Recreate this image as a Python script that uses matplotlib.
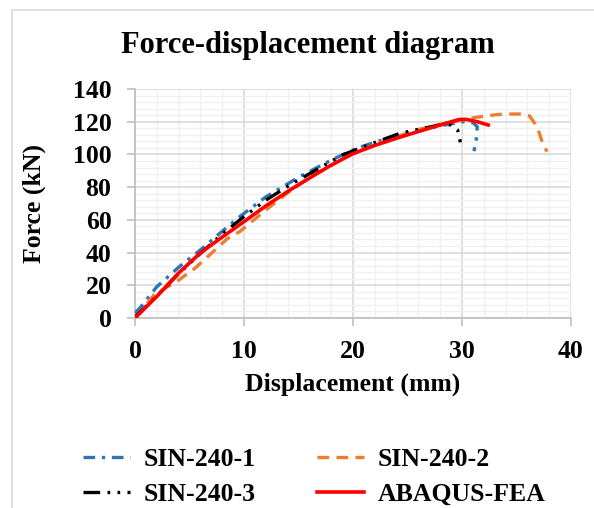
import matplotlib
matplotlib.use("Agg")
import matplotlib.pyplot as plt
from matplotlib.patches import Rectangle
from matplotlib.ticker import MultipleLocator

# ---- data ----
x_sin1 = [0.0, 0.5, 2.0, 4.0, 6.0, 8.0, 9.6, 12.0, 15.1, 18.0, 20.3, 23.0, 25.5, 28.0, 30.1, 31.0, 31.4, 31.3, 31.1]
y_sin1 = [3.0, 6.5, 19.1, 31.0, 41.6, 53.0, 61.9, 74.0, 86.4, 96.5, 103.7, 109.5, 113.9, 117.5, 120.0, 119.5, 117.0, 108.8, 102.0]

x_sin2 = [0.0, 1.8, 3.8, 5.5, 7.0, 8.5, 9.6, 12.0, 14.0, 16.0, 18.0, 20.0, 23.0, 26.0, 28.5, 31.3, 33.0, 34.0, 35.6, 36.2, 36.9, 37.4, 37.8]
y_sin2 = [0.0, 14.5, 22.2, 30.4, 39.5, 48.7, 52.8, 66.0, 76.5, 86.0, 93.5, 100.5, 108.5, 115.3, 119.0, 122.7, 124.2, 124.7, 124.7, 123.5, 116.9, 106.8, 101.7]

x_sin3 = [0.0, 2.0, 4.0, 6.0, 8.1, 10.0, 12.0, 14.2, 17.0, 19.0, 21.5, 24.3, 26.5, 28.2, 29.0, 29.6, 29.85]
y_sin3 = [0.5, 13.5, 27.0, 39.5, 51.8, 62.0, 72.0, 81.3, 92.0, 99.6, 106.0, 112.9, 116.0, 118.4, 118.0, 114.9, 107.4]

x_fea = [0.0, 1.98, 3.97, 5.95, 8.0, 10.0, 12.0, 14.2, 16.0, 17.86, 19.9, 22.0, 23.96, 25.5, 27.0, 28.5, 29.76, 30.4, 31.4, 32.4]
y_fea = [0.0, 13.0, 27.3, 39.5, 49.5, 58.9, 68.5, 78.2, 85.5, 92.9, 100.2, 105.5, 109.8, 113.0, 116.0, 119.0, 121.4, 121.4, 120.0, 118.0]

labels = ["SIN-240-1", "SIN-240-2", "SIN-240-3", "ABAQUS-FEA"]
title = "Force-displacement diagram"
xlabel = "Displacement (mm)"
ylabel = "Force (kN)"

plt.rcParams['font.family'] = ['Liberation Serif', 'DejaVu Serif']
plt.rcParams['font.weight'] = 'bold'

FS = 18.5

fig = plt.figure(figsize=(5.94, 5.08), dpi=100)
fig.patches.append(Rectangle((12/594, -0.1), 1.2, 0.1 + (1 - 10/508), transform=fig.transFigure,
                             fill=False, edgecolor='#d9d9d9', linewidth=1.2, zorder=0))

ax = fig.add_axes([135/594, 1 - 318/508, (571 - 135)/594, (318 - 89)/508])

lw = 2.4
h1, = ax.plot(x_sin1, y_sin1, color='#2e75b6', lw=lw, linestyle=(0, (3.5, 2, 1, 2)), label=labels[0], zorder=3)
h2, = ax.plot(x_sin2, y_sin2, color='#ed7d31', lw=lw, linestyle=(0, (3.5, 2.2)), label=labels[1], zorder=3)
h3, = ax.plot(x_sin3, y_sin3, color='black', lw=lw, linestyle=(0, (5, 2.2, 0.8, 2.2, 0.8, 2.2)), label=labels[2], zorder=4)
h4, = ax.plot(x_fea, y_fea, color='#ff0000', lw=2.6, linestyle='-', label=labels[3], zorder=5)

ax.set_xlim(0, 40)
ax.set_ylim(0, 140)
ax.xaxis.set_major_locator(MultipleLocator(10))
ax.yaxis.set_major_locator(MultipleLocator(20))
ax.xaxis.set_minor_locator(MultipleLocator(2))
ax.yaxis.set_minor_locator(MultipleLocator(4))
ax.grid(which='major', color='#d9d9d9', linewidth=1.2)
ax.grid(which='minor', color='#f0f0f0', linewidth=1.0)
ax.set_axisbelow(True)
for s in ['top', 'right']:
    ax.spines[s].set_visible(False)
for s in ['left', 'bottom']:
    ax.spines[s].set_color('#bfbfbf')
    ax.spines[s].set_linewidth(1.2)
ax.tick_params(which='major', direction='out', length=6, color='#bfbfbf', width=1.2,
               labelsize=FS)
ax.tick_params(axis='x', pad=10)
ax.tick_params(axis='y', pad=11)
ax.tick_params(which='minor', length=0)
for t in ax.get_xticklabels() + ax.get_yticklabels():
    t.set_fontweight('bold')

ax.set_xlabel(xlabel, fontsize=FS, fontweight='bold', labelpad=7)
ax.set_ylabel(ylabel, fontsize=FS, fontweight='bold', labelpad=19)
fig.text(308/594, 1 - 45/508, title, fontsize=22, fontweight='bold', ha='center', va='center')

handles = [h1, h3, h2, h4]
leg = fig.legend(handles, [h.get_label() for h in handles], loc='center',
                 bbox_to_anchor=(314/594, 1 - 477/508), ncol=2, frameon=False,
                 prop={'size': FS, 'weight': 'bold'}, handlelength=1.85, handletextpad=0.5,
                 columnspacing=2.4, labelspacing=0.45)

fig.savefig('out.png', dpi=100)
